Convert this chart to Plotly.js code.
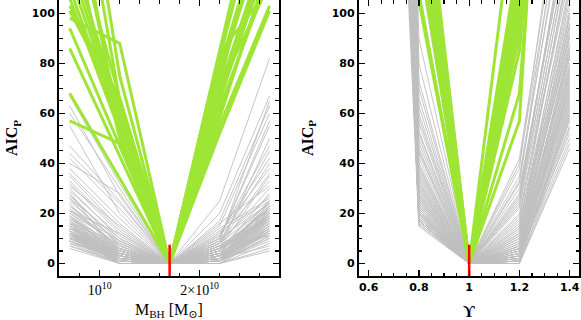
<!DOCTYPE html>
<html><head><meta charset="utf-8">
<script src="https://cdn.plot.ly/plotly-3.0.1.min.js"></script>
<style>html,body{margin:0;padding:0;background:#fff}#chart{width:581px;height:320px}</style>
</head><body><div id="chart"></div>
<script>
// Grid of trial values
const mbhGrid = [0.7e10, 1.2e10, 1.7e10, 2.2e10, 2.7e10];
const upsGrid = [0.6, 0.8, 1.0, 1.2, 1.4];

// AIC_P curves vs M_BH (values at each grid point)
const mbhGray = [
 [12,2,0,1,14],[9,1,0,2,18],[15,3,0,0,11],[7,0,0,1,9],[10,2,0,3,21],
 [14,4,0,2,16],[11,1,0,0,13],[8,0,0,1,12],[13,3,0,4,24],[16,5,0,2,19],
 [6,0,0,0,5],[10,1,0,1,15],[12,2,0,3,17],[18,4,0,2,22],[9,2,0,1,10],
 [14,3,0,5,20],[11,0,0,0,8],[17,6,0,3,23],[20,5,0,4,25],[13,2,0,1,14],
 [22,6,0,6,18],[25,8,0,3,20],[28,7,0,5,23],[30,10,0,8,30],[27,9,0,4,16],
 [32,12,0,6,35],[29,11,0,7,21],[35,14,0,9,40],[24,4,0,2,12],[19,3,0,2,17],
 [26,5,0,8,45],[31,15,0,5,28],[38,18,0,10,55],[42,22,0,12,42],[47,25,0,6,50],
 [40,28,0,15,60],[60,30,0,17,63],[63,27,0,20,67],[67,32,0,25,82],[55,20,0,10,57],
 [36,16,0,12,38],[23,6,0,9,65],[21,9,0,11,33],[15,6,0,14,26],[8,3,0,7,11],
 [7,1,0,2,7],[10,4,0,6,19],[12,5,0,3,13],[16,2,0,5,22],[13,1,0,4,18],
 [9,0,0,2,15],[11,3,0,8,24],[14,6,0,3,12],[18,7,0,6,20],[20,8,0,2,16],
 [17,4,0,7,21],[23,9,0,5,19],[26,10,0,4,14],[12,0,0,1,10],[9,2,0,3,23],
 [33,13,0,11,47],[44,24,0,8,36],[21,12,0,13,25],[15,2,0,6,17],[10,3,0,9,27],
 [11,5,0,16,31],[13,4,0,0,6],[19,6,0,7,18],[28,3,0,2,13],[16,8,0,10,24],
 [10,1,0,2,12],[11,2,0,1,16],[12,1,0,3,20],[13,3,0,2,15],[14,2,0,4,19],
 [9,1,0,1,13],[15,4,0,3,18],[16,3,0,2,21],[12,4,0,5,23],[11,2,0,4,17],
 [14,5,0,1,11],[17,3,0,6,22],[13,0,0,2,14],[10,3,0,1,20],[18,5,0,3,16],
 [12,3,0,6,25],[15,1,0,2,13],[19,4,0,4,24],[21,7,0,3,19],[11,1,0,5,22]
];
const mbhGreen = [
 [57,48,0,52,101],[68,34,0,55,103],[86,43,0,60,118],[94,47,0,65,125],
 [98,88,0,70,130],[101,63,0,62,115],[103,66,0,75,140],[106,53,0,68,122],
 [110,55,0,80,135],[115,58,0,84,110],[120,60,0,72,150],[125,62,0,78,145],
 [135,50,0,66,128],[140,66,0,58,120],[180,65,0,82,160],[150,56,0,76,138],
 [160,52,0,70,112],[200,75,0,85,170]
];

// AIC_P curves vs mass-to-light ratio
const upsGray = [
 [450,15,0,0,48],[500,17,0,2,55],[520,18,0,1,60],[480,20,0,3,52],[600,22,0,5,65],
 [550,24,0,4,70],[700,26,0,6,75],[650,28,0,2,58],[580,30,0,8,80],[620,32,0,7,85],
 [750,34,0,10,90],[680,36,0,5,68],[800,38,0,9,95],[720,40,0,12,100],[560,19,0,1,62],
 [610,21,0,3,72],[530,23,0,6,78],[660,25,0,4,66],[590,27,0,11,88],[740,29,0,13,105],
 [690,31,0,7,92],[770,33,0,15,110],[820,35,0,14,98],[850,42,0,18,120],[600,45,0,20,115],
 [640,48,0,16,102],[700,50,0,22,125],[760,53,0,25,130],[880,56,0,19,118],[900,60,0,28,140],
 [720,63,0,30,135],[780,66,0,35,150],[840,70,0,40,160],[860,73,0,42,170],[500,16,0,1,50],
 [470,18,0,0,54],[540,20,0,2,57],[570,22,0,1,63],[630,24,0,3,69],[670,26,0,2,73],
 [710,28,0,4,77],[490,17,0,5,82],[510,19,0,6,86],[560,21,0,8,94],[600,23,0,9,99],
 [650,25,0,10,108],[690,27,0,12,112],[730,30,0,14,122],[770,32,0,3,74],[810,37,0,17,128],
 [830,39,0,6,84],[870,44,0,11,96],[620,46,0,24,145],[680,52,0,26,138],[740,58,0,32,155],
 [800,80,0,38,180],[760,90,0,33,165],[850,110,0,23,132],[900,120,0,27,142],[560,18,0,0,46],
 [600,20,0,1,59],[520,16,0,3,64],[540,17,0,2,71],[580,19,0,4,79],[620,18,0,1,67],
 [660,20,0,5,87],[500,15,0,2,61],[640,21,0,7,91],[700,22,0,3,76],[560,17,0,6,83]
];
const upsGreen = [
 [950,105,0,161,500],[1000,108,0,123,420],[1050,125,0,57,377],[980,128,0,68,330],
 [1100,131,0,85,300],[1020,134,0,91,280],[1080,137,0,95,310],[1150,140,0,100,330],
 [1000,144,0,103,350],[1120,148,0,106,400],[1060,152,0,108,300],[1180,156,0,110,380],
 [1040,160,0,112,420],[1200,164,0,115,450],[1100,168,0,118,360],[1160,172,0,120,340],
 [1090,175,0,125,390],[1130,146,0,117,290]
];

// best-fit values and the height of their marker
const bestMbh = 1.7e10;
const bestUps = 1.0;
const bestMarkTop = 7.5;
const yRange = [-5, 105.3];

function flatten(grid, rows) {
  const x = [], y = [];
  rows.forEach(r => { r.forEach((v, i) => { x.push(grid[i]); y.push(v); }); x.push(null); y.push(null); });
  return {x, y};
}
const GRAY = '#bfbfbf', GREEN = '#9ee535', RED = '#ff0000';
function lineTrace(grid, rows, color, width, xa, ya) {
  const f = flatten(grid, rows);
  return {x: f.x, y: f.y, type: 'scatter', mode: 'lines', connectgaps: false,
          line: {color, width}, xaxis: xa, yaxis: ya, hoverinfo: 'skip', showlegend: false};
}
const data = [
  lineTrace(mbhGrid, mbhGray, GRAY, 0.9, 'x', 'y'),
  lineTrace(mbhGrid, mbhGreen, GREEN, 3, 'x', 'y'),
  {x: [bestMbh, bestMbh], y: [yRange[0], bestMarkTop], type: 'scatter', mode: 'lines',
   line: {color: RED, width: 2.5}, xaxis: 'x', yaxis: 'y', showlegend: false},
  lineTrace(upsGrid, upsGray, GRAY, 0.9, 'x2', 'y2'),
  lineTrace(upsGrid, upsGreen, GREEN, 3, 'x2', 'y2'),
  {x: [bestUps, bestUps], y: [yRange[0], bestMarkTop], type: 'scatter', mode: 'lines',
   line: {color: RED, width: 2.5}, xaxis: 'x2', yaxis: 'y2', showlegend: false}
];

const tickFont = {family: 'DejaVu Sans', size: 11, color: '#000', weight: 'bold'};
const serifTitle = {family: 'Liberation Serif, DejaVu Serif', size: 16, color: '#000'};
const yTitleFont = {family: 'Liberation Serif, DejaVu Serif', size: 16, color: '#000', weight: 'bold'};
const axCommon = {showline: true, linewidth: 2, linecolor: '#000', mirror: 'ticks',
  ticks: 'inside', ticklen: 6, tickwidth: 1.3, tickcolor: '#000',
  showgrid: false, zeroline: false, fixedrange: true};
const minorCommon = {ticks: 'inside', ticklen: 3.5, tickwidth: 1.1, tickcolor: '#000', showgrid: false};

const layout = {
  width: 581, height: 320,
  margin: {l: 59, r: 2, t: 0, b: 44},
  paper_bgcolor: '#fff', plot_bgcolor: '#fff',
  xaxis: Object.assign({}, axCommon, {
    domain: [0, 0.4228], range: [0.593e10, 2.793e10], anchor: 'y',
    tickmode: 'array', tickvals: [1e10, 2e10], ticktext: ['10<sup>10</sup>', '2×10<sup>10</sup>'],
    tickfont: {family: 'Liberation Serif, DejaVu Serif', size: 14, color: '#000'},
    minor: Object.assign({}, minorCommon, {dtick: 0.2e10, tick0: 0}),
    title: {text: 'M<sub>BH</sub> [M<sub>⊙</sub>]', font: serifTitle}
  }),
  yaxis: Object.assign({}, axCommon, {
    domain: [0, 1], range: yRange, anchor: 'x', dtick: 20, tick0: 0,
    tickfont: tickFont,
    minor: Object.assign({}, minorCommon, {dtick: 5, tick0: 0}),
    title: {text: 'AIC<sub>P</sub>', font: yTitleFont, standoff: 10}
  }),
  xaxis2: Object.assign({}, axCommon, {
    domain: [0.5766, 1], range: [0.561, 1.437], anchor: 'y2', dtick: 0.2, tick0: 0,
    tickfont: tickFont,
    minor: Object.assign({}, minorCommon, {dtick: 0.05, tick0: 0}),
    title: {text: 'ϒ', font: yTitleFont}
  }),
  yaxis2: Object.assign({}, axCommon, {
    domain: [0, 1], range: yRange, anchor: 'x2', dtick: 20, tick0: 0,
    tickfont: tickFont,
    minor: Object.assign({}, minorCommon, {dtick: 5, tick0: 0}),
    title: {text: 'AIC<sub>P</sub>', font: yTitleFont, standoff: 14}
  })
};
Plotly.newPlot('chart', data, layout, {staticPlot: true, displayModeBar: false});
</script></body></html>
